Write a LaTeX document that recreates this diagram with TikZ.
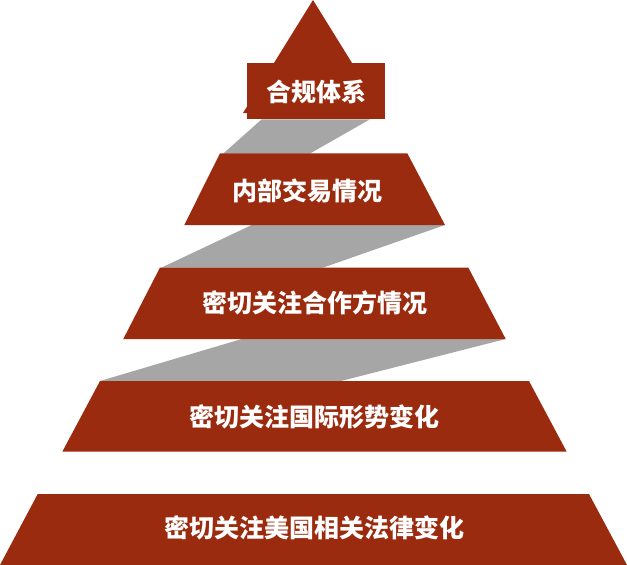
\documentclass[tikz,border=0pt]{standalone}
\usepackage{fontspec}
\newfontfamily\cjk{Noto Sans CJK SC}
\definecolor{tierred}{RGB}{155,43,14}
\definecolor{shadowgray}{RGB}{166,166,166}
\tikzset{
  tier/.style={fill=tierred},
  band/.style={fill=shadowgray},
  lbl/.style={text=white, font=\cjk\bfseries\fontsize{25}{29}\selectfont, inner sep=0pt, anchor=center}
}
\begin{document}
\begin{tikzpicture}[x=1pt,y=-1pt]
\useasboundingbox (0,0) rectangle (627,565);
% shadow bands
\fill[band] (261.7,119.3) -- (370,119.3) -- (310,153.5) -- (223.3,153.5) -- cycle;
\fill[band] (251.7,225) -- (445,225) -- (323.3,267.5) -- (161.7,267.5) -- cycle;
\fill[band] (241.7,339) -- (505.7,339) -- (341,381) -- (100,381) -- cycle;
% top triangle and box
\fill[tier] (313,0) -- (383,113) -- (243,113) -- cycle;
\fill[tier] (246.7,62.7) rectangle (385,119.3);
% tiers
\fill[tier] (220,153.3) -- (407.3,153.3) -- (445,225) -- (184.3,225) -- cycle;
\fill[tier] (160,267.5) -- (468.3,267.5) -- (505.7,339) -- (123.3,339) -- cycle;
\fill[tier] (100,381) -- (529,381) -- (566.7,451.7) -- (62.3,451.7) -- cycle;
\fill[tier] (37.7,494) -- (589,494) -- (627,565) -- (0,565) -- cycle;
% labels
\node[lbl] (t1) at (316,92) {合规体系};
\node[lbl] (t2) at (307.5,191) {内部交易情况};
\node[lbl] (t3) at (314.5,303) {密切关注合作方情况};
\node[lbl] (t4) at (314.5,416.5) {密切关注国际形势变化};
\node[lbl] (t5) at (314.5,528) {密切关注美国相关法律变化};
\end{tikzpicture}
\end{document}
